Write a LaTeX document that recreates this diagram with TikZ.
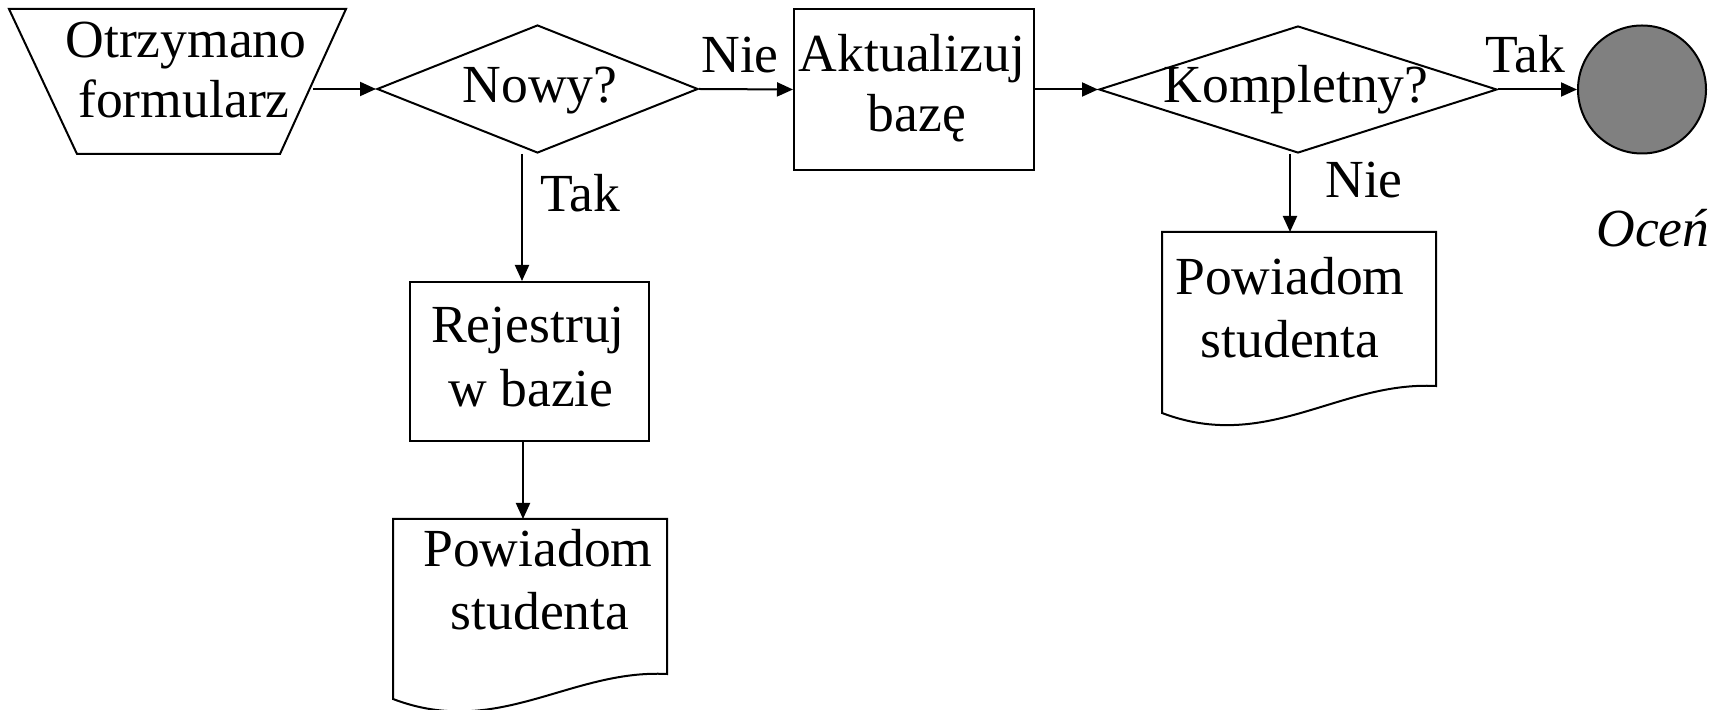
\documentclass[tikz,border=0pt]{standalone}
\usepackage{fontspec}
\setmainfont{Liberation Serif}
\usetikzlibrary{shapes.geometric,arrows.meta}
\definecolor{endfill}{RGB}{128,128,128}
\begin{document}
\begin{tikzpicture}[x=0.5pt,y=-0.5pt,
  line width=1pt,
  txt/.style={anchor=base,inner sep=0pt,font=\fontsize{26.8}{30}\selectfont},
  boxnode/.style={draw,rectangle,inner sep=0pt},
  decision/.style={draw,diamond,inner sep=0pt},
  docnode/.style={rectangle,inner sep=0pt,minimum width=136pt},
  conn/.style={-{Triangle[length=8pt,width=7pt]}},
  ]
\useasboundingbox (0,0) rectangle (1725,710);

% shapes
\node[rectangle,inner sep=0pt,minimum width=167.5pt,minimum height=71.5pt] (start) at (177.5,81.5) {};
\draw (start.north west) -- (start.north east) -- ([xshift=-33pt]start.south east)
  -- ([xshift=34pt]start.south west) -- cycle;
\node[decision,minimum width=160.5pt,minimum height=64pt] (nowy) at (537.5,89) {};
\node[boxnode,minimum width=120pt,minimum height=80.5pt] (akt) at (914,89.5) {};
\node[decision,minimum width=199pt,minimum height=63.5pt] (komp) at (1298,89.5) {};
\node[draw,circle,fill=endfill,minimum size=64pt,inner sep=0pt] (end) at (1642,89.5) {};
\node[boxnode,minimum width=119.5pt,minimum height=79.5pt] (rej) at (529.5,361.5) {};
\node[docnode,minimum height=89pt] (doc1) at (530,609) {};
\node[docnode,minimum height=89.5pt] (doc2) at (1299,322.5) {};

\draw (doc1.north west) -- (doc1.north east) -- ++(0,155)
  .. controls +(-97,-5) and +(105,40) .. (doc1.south west) -- cycle;
\draw (doc2.north west) -- (doc2.north east) -- ++(0,154)
  .. controls +(-97,-5) and +(105,40) .. (doc2.south west) -- cycle;

% connectors
\draw[conn] ([xshift=-16.5pt]start.east |- nowy.west) -- (nowy.west);
\draw[conn] (nowy.east) -- (akt.west);
\draw[conn] (akt.east) -- (komp.west);
\draw[conn] (komp.east) -- (end.west);
\draw[conn] ([xshift=-7.75pt]nowy.south) -- ([xshift=-7.75pt]nowy.south |- rej.north);
\draw[conn] ([xshift=-3.25pt]rej.south) -- ([xshift=-3.25pt]rej.south |- doc1.north);
\draw[conn] ([xshift=-4pt]komp.south) -- ([xshift=-4pt]komp.south |- doc2.north);

% texts
\node[txt] (l1) at (186,58) {Otrzymano};
\node[txt] (l2) at (184,118) {formularz};
\node[txt] (l3) at (540,103) {Nowy?};
\node[txt] (l4) at (740,73) {Nie};
\node[txt] (l5) at (912,72) {Aktualizuj};
\node[txt] (l6) at (917,132) {bazę};
\node[txt] (l7) at (1296,103) {Kompletny?};
\node[txt] (l8) at (1525,73) {Tak};
\node[txt,font=\fontsize{26.8}{30}\selectfont\itshape] (l9) at (1653,247) {Oceń};
\node[txt] (l10) at (1364,198) {Nie};
\node[txt] (l11) at (580,212) {Tak};
\node[txt] (l12) at (528,343) {Rejestruj};
\node[txt] (l13) at (531,407) {w bazie};
\node[txt] (l14) at (538,567) {Powiadom};
\node[txt] (l15) at (540,630) {studenta};
\node[txt] (l16) at (1290,295) {Powiadom};
\node[txt] (l17) at (1290,358) {studenta};
\end{tikzpicture}
\end{document}
